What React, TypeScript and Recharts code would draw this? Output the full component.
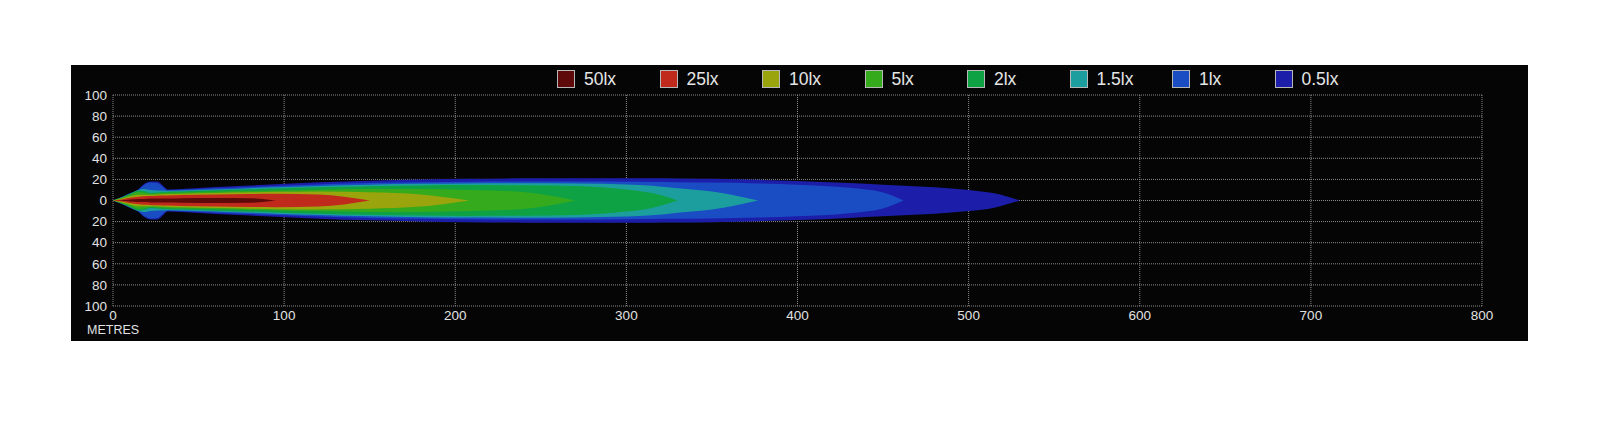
import React from 'react';
import { AreaChart, Area, XAxis, YAxis, CartesianGrid, Legend } from 'recharts';

// distance along the beam (metres)
const distances = [0, 5, 10, 15, 18, 22, 26, 29, 32, 40, 60, 80, 95, 120, 150, 180, 208, 240, 270, 300, 315, 330, 350, 377, 400, 430, 450, 462, 480, 500, 515, 530];

// half-width of each isolux contour (metres) at the distances above
const halfWidth05 = [0, 3.2, 7, 11, 15.5, 18, 18, 14.5, 10.5, 11, 12.8, 14.3, 15.3, 17.2, 18.8, 19.8, 20.5, 21, 21.2, 21.2, 21, 20.9, 20.5, 19.6, 18.6, 16.6, 15, 14, 12.5, 10, 6.8, 0];
const halfWidth1 = [0, 3, 6.8, 10.5, 14.5, 17, 16.5, 13, 9.8, 10.2, 11.5, 12.8, 13.7, 15.2, 16.5, 17.3, 17.8, 18, 18, 17.8, 17.6, 17.4, 17, 16.2, 15, 12, 7.5, 0];
const halfWidth15 = [0, 2.9, 6.5, 10, 11, 10, 9.5, 9.5, 9.2, 9.5, 10.5, 11.7, 12.5, 13.8, 15, 15.8, 16.2, 16.3, 16, 15.2, 14, 11.5, 8.5, 0];
const halfWidth2 = [0, 2.8, 6.3, 9.5, 9, 7, 7.5, 8, 8.3, 8.6, 9.6, 10.6, 11.3, 12.5, 13.6, 14.3, 14.6, 14.5, 13.8, 10.5, 7, 0];
const halfWidth5 = [0, 2.5, 5.5, 8, 7.5, 6.5, 6.8, 7, 7.3, 7.6, 8.3, 9, 9.5, 10.3, 10.8, 10.8, 10, 8, 0];
const halfWidth10 = [0, 2, 4, 5.5, 5.5, 5.5, 5.8, 6, 6.2, 6.5, 7.2, 7.8, 8.2, 8.6, 7.8, 5.8, 0];
const halfWidth25 = [0, 1, 2.5, 3.5, 4, 4.2, 4.5, 4.7, 4.8, 5.2, 5.8, 6.2, 6.4, 5.8, 0];
const halfWidth50 = [0, 0.3, 1, 1.5, 1.5, 1.8, 2, 2, 2, 2.2, 2.4, 2.2, 0];

const levelNames = ['50lx', '25lx', '10lx', '5lx', '2lx', '1.5lx', '1lx', '0.5lx'];
const levelColors = ['#5e0a0a', '#c02a1c', '#9aa40c', '#35aa1c', '#0fa244', '#1d9e9e', '#1a4cc4', '#1c1eaa'];
const levelWidths = [halfWidth50, halfWidth25, halfWidth10, halfWidth5, halfWidth2, halfWidth15, halfWidth1, halfWidth05];

const xTicks = [0, 100, 200, 300, 400, 500, 600, 700, 800];
const yTicks = [-100, -80, -60, -40, -20, 0, 20, 40, 60, 80, 100];

const keys = levelNames.map((_, i) => 'k' + i);

const data = distances.map((d, i) => {
  const row: Record<string, any> = { x: d };
  levelWidths.forEach((arr, j) => {
    const w = arr[i];
    row[keys[j]] = w === undefined ? null : [-w, w];
  });
  return row;
});

const FONT = '"Liberation Sans", Arial, Helvetica, sans-serif';

const renderLegend = () => (
  <div style={{ display: 'flex', alignItems: 'center', fontFamily: FONT }}>
    {levelNames.map((n, i) => (
      <div key={n} style={{ width: 102.5, display: 'flex', alignItems: 'center', height: 18 }}>
        <div
          style={{
            width: 16,
            height: 16,
            background: levelColors[i],
            border: '1px solid #b8b8b8',
          }}
        />
        <span style={{ marginLeft: 9, color: '#e6e6e6', fontSize: 17.5, lineHeight: '18px' }}>{n}</span>
      </div>
    ))}
  </div>
);

export default function App() {
  // draw widest contour first
  const order = levelNames.map((_, i) => i).reverse();
  return (
    <div
      style={{
        position: 'absolute',
        left: 71,
        top: 65,
        width: 1457,
        height: 276,
        background: '#050505',
        fontFamily: FONT,
      }}
    >
      <AreaChart
        width={1457}
        height={276}
        data={data}
        margin={{ top: 30, right: 46, left: 0, bottom: 0 }}
        style={{ fontFamily: FONT }}
      >
        {order.map((i) => (
          <Area
            key={keys[i]}
            dataKey={keys[i]}
            name={levelNames[i]}
            type="monotone"
            stroke="none"
            fill={levelColors[i]}
            fillOpacity={1}
            isAnimationActive={false}
            dot={false}
            activeDot={false}
          />
        ))}
        <CartesianGrid stroke="#8c8c8c" strokeDasharray="1 1" strokeWidth={1} />
        <XAxis
          dataKey="x"
          type="number"
          domain={[0, 800]}
          ticks={xTicks}
          axisLine={false}
          tickLine={false}
          tickSize={3}
          tickMargin={1}
          height={35}
          interval={0}
          tick={{ fill: '#e2e2e2', fontSize: 13.5 }}
        />
        <YAxis
          type="number"
          domain={[-100, 100]}
          ticks={yTicks}
          axisLine={false}
          tickLine={false}
          tickSize={4}
          tickMargin={2}
          width={42}
          interval={0}
          tickFormatter={(v: number) => String(Math.abs(v))}
          tick={{ fill: '#e2e2e2', fontSize: 13.5 }}
        />
        <Legend
          layout="horizontal"
          verticalAlign="middle"
          align="center"
          content={renderLegend}
          wrapperStyle={{ top: 5, left: 486, width: 'auto', height: 'auto' }}
        />
      </AreaChart>
      <div
        style={{
          position: 'absolute',
          left: 16,
          top: 259,
          fontSize: 12.5,
          lineHeight: '12px',
          color: '#e2e2e2',
        }}
      >
        METRES
      </div>
    </div>
  );
}
